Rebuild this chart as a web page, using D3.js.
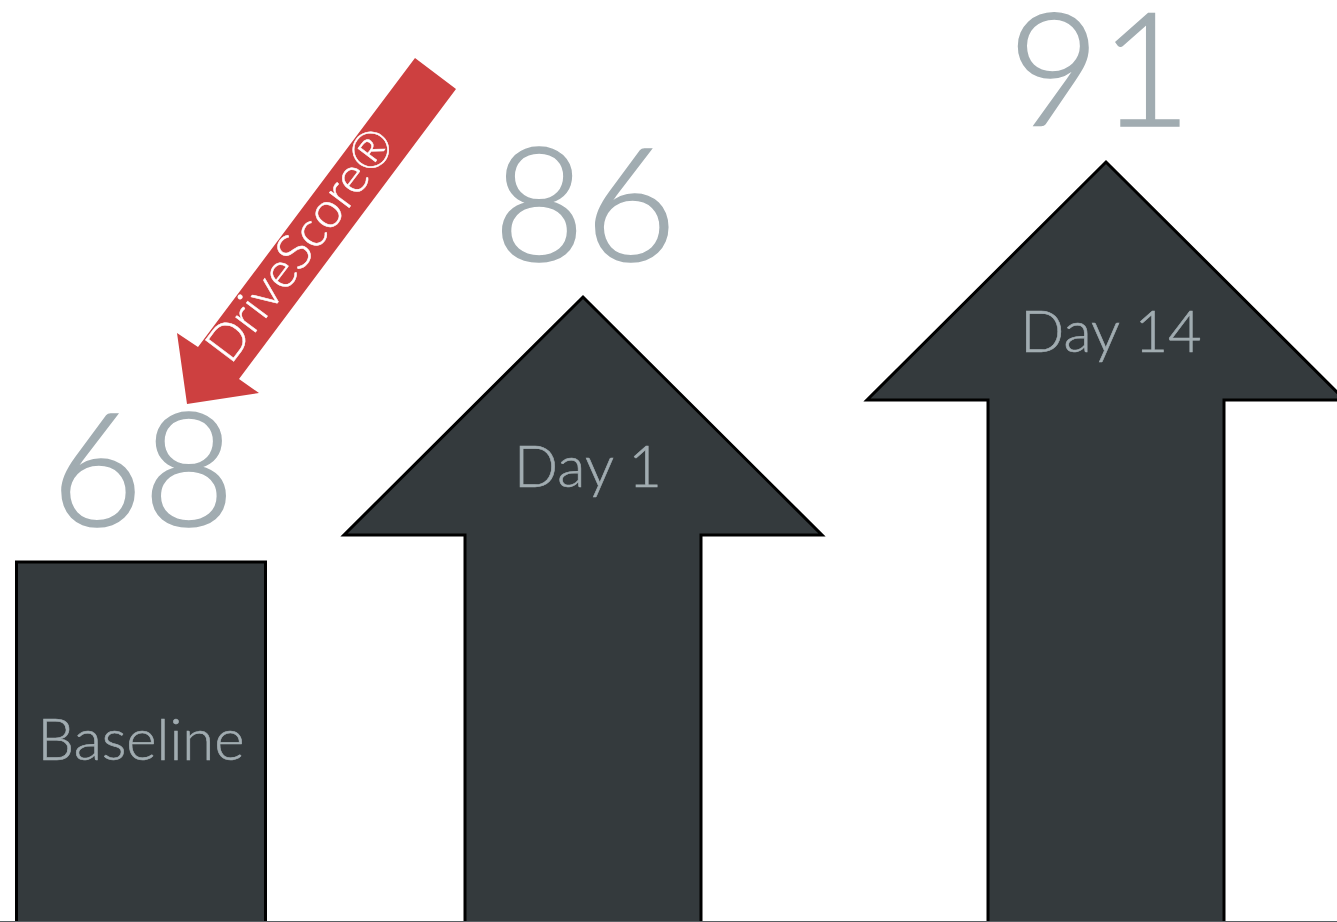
<!DOCTYPE html>
<html>
<head>
<meta charset="utf-8" />
<script src="https://d3js.org/d3.v7.min.js"></script>
<style>
  body { margin: 0; background: #fff; }
  svg { display: block; }
  .score { font-family: Lato, "Open Sans", sans-serif; font-weight: 300; fill: #a1acb1; stroke: #a1acb1; stroke-width: 1.6px; }
  .label { font-family: Lato, "Open Sans", sans-serif; font-weight: 300; fill: #a1acb1; stroke: #a1acb1; stroke-width: 0.6px; }
</style>
</head>
<body>
<svg id="chart" width="1337" height="922"></svg>
<script>
var categories = ["Baseline", "Day 1", "Day 14"];
var scores = [68, 86, 91];
var kinds = ["bar", "arrow", "arrow"];
var calloutText = "DriveScore\u00AE";

var width = 1337, height = 922, bottom = 926;
var svg = d3.select("#chart");

// centers of each shape
var x = d3.scaleOrdinal().domain(categories).range([141, 583, 1106]);
// top of each shape (tip for the arrows)
var y = d3.scaleLinear().domain([68, 86, 91]).range([562, 297, 162]);

var barWidth = 249, shaftWidth = 236, headHalf = 239;

var data = categories.map(function(c, i) {
    return { cat: c, score: scores[i], kind: kinds[i] };
});

function shapePath(d) {
    var cx = x(d.cat), top = y(d.score);
    var p = d3.path();
    if (d.kind == "bar") {
        p.moveTo(cx - barWidth / 2, bottom);
        p.lineTo(cx - barWidth / 2, top);
        p.lineTo(cx + barWidth / 2, top);
        p.lineTo(cx + barWidth / 2, bottom);
    } else {
        var shoulder = top + headHalf - 1;
        p.moveTo(cx - shaftWidth / 2, bottom);
        p.lineTo(cx - shaftWidth / 2, shoulder);
        p.lineTo(cx - headHalf, shoulder);
        p.lineTo(cx, top);
        p.lineTo(cx + headHalf, shoulder);
        p.lineTo(cx + shaftWidth / 2, shoulder);
        p.lineTo(cx + shaftWidth / 2, bottom);
    }
    p.closePath();
    return p.toString();
}

svg.selectAll(".shape")
    .data(data)
    .enter().append("path")
    .attr("class", "shape")
    .attr("d", shapePath)
    .attr("fill", "#343a3d")
    .attr("stroke", "#000")
    .attr("stroke-width", 3)
    .attr("stroke-linejoin", "miter");

svg.selectAll(".score")
    .data(data)
    .enter().append("text")
    .attr("class", "score")
    .attr("x", function(d) { return x(d.cat) + (d.score == 91 ? -6 : 2); })
    .attr("y", function(d) { return y(d.score) - 36; })
    .attr("text-anchor", "middle")
    .attr("font-size", 158)
    .text(function(d) { return d.score; });

svg.selectAll(".label")
    .data(data)
    .enter().append("text")
    .attr("class", "label")
    .attr("x", function(d) { return x(d.cat) + (d.kind == "bar" ? 0 : 5); })
    .attr("y", function(d) { return y(d.score) + (d.kind == "bar" ? 198 : 190); })
    .attr("text-anchor", "middle")
    .attr("font-size", 58)
    .text(function(d) { return d.cat; });

// baseline rule
svg.append("line")
    .attr("x1", 0).attr("x2", width)
    .attr("y1", height - 0.5).attr("y2", height - 0.5)
    .attr("stroke", "#5a6064")
    .attr("stroke-width", 1);

// red callout arrow pointing at the baseline score
var callout = svg.append("g").attr("class", "callout");
callout.append("path")
    .attr("d", "M415,58 L456,89 L239,379 L259,393 L187,404 L177,333 L198,347 Z")
    .attr("fill", "#cd4040");

callout.append("text")
    .attr("transform", "translate(300,244) rotate(-53)")
    .attr("text-anchor", "middle")
    .attr("dy", "0.35em")
    .attr("font-family", "Lato, 'Open Sans', sans-serif")
    .attr("font-weight", 300)
    .attr("font-size", 50)
    .attr("fill", "#fff")
    .attr("stroke", "#fff")
    .attr("stroke-width", 0.5)
    .text(calloutText);
</script>
</body>
</html>
